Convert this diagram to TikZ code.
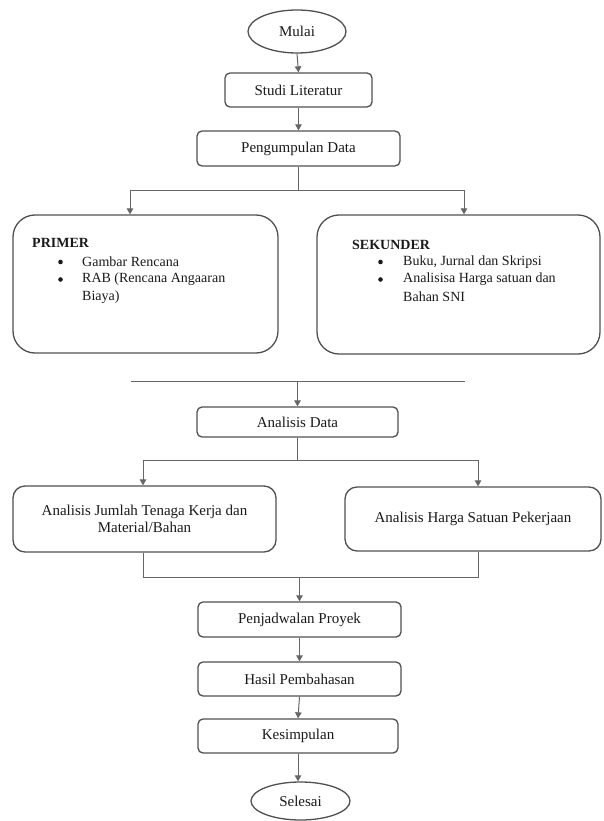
\documentclass[tikz,border=0pt]{standalone}
\usepackage{fontspec}
\setmainfont{Liberation Serif}
\usetikzlibrary{arrows.meta,shapes.geometric}
\definecolor{boxline}{HTML}{505050}
\definecolor{conn}{HTML}{666666}
\definecolor{txt}{HTML}{1A1A1A}
\tikzset{
  procbox/.style={draw=boxline, line width=1.3pt, rounded corners=5pt, inner sep=0pt,
    font=\fontsize{15}{17}\selectfont, text=txt, align=center},
  bigbox/.style={draw=boxline, line width=1.3pt, rounded corners=22pt, inner sep=0pt},
  termnode/.style={draw=boxline, line width=1.3pt, ellipse, inner sep=0pt,
    font=\fontsize{15}{17}\selectfont, text=txt},
  conline/.style={draw=conn, line width=1pt},
  conarrow/.style={conline, -{Triangle[length=6pt,width=6.5pt]}, shorten >=0pt},
  listtxt/.style={font=\fontsize{14}{16}\selectfont, text=txt, inner sep=0pt, anchor=west},
  bulletmark/.style={circle, fill=txt, draw=none, minimum size=4.6pt, inner sep=0pt},
}
\begin{document}
\begin{tikzpicture}[x=1pt,y=-1pt]
\useasboundingbox[fill=white] (0,0) rectangle (603,821);

\node[termnode, minimum width=98pt, minimum height=43pt] (mulai) at (297,31.5) {Mulai};
\node[procbox, minimum width=147pt, minimum height=34pt] (studi) at (298.5,90) {Studi Literatur};
\node[procbox, minimum width=203pt, minimum height=35pt] (kumpul) at (298.5,148.5) {Pengumpulan Data};

\node[bigbox, minimum width=265pt, minimum height=138pt] (primer) at (145.5,284) {};
\node[bigbox, minimum width=283pt, minimum height=139pt] (sekunder) at (458.5,284.5) {};

\node[listtxt, font=\fontsize{14}{16}\selectfont\bfseries] (ptitle) at (32,243) {PRIMER};
\node[bulletmark] (pb1) at (60.5,262) {};
\node[listtxt] (pi1) at (82,262) {Gambar Rencana};
\node[bulletmark] (pb2) at (60.5,279.5) {};
\node[listtxt] (pi2) at (82,279.5) {RAB (Rencana Angaaran};
\node[listtxt] (pi2b) at (82,297) {Biaya)};

\node[listtxt, font=\fontsize{14}{16}\selectfont\bfseries] (stitle) at (352,245) {SEKUNDER};
\node[bulletmark] (sb1) at (380.5,262) {};
\node[listtxt] (si1) at (403,262) {Buku, Jurnal dan Skripsi};
\node[bulletmark] (sb2) at (380.5,279.5) {};
\node[listtxt] (si2) at (403,279.5) {Analisisa Harga satuan dan};
\node[listtxt] (si2b) at (403,297) {Bahan SNI};

\node[procbox, minimum width=201pt, minimum height=30pt] (adata) at (297.5,422) {Analisis Data};
\node[procbox, rounded corners=12pt, minimum width=263pt, minimum height=66pt] (ajumlah) at (144.5,519)
  {Analisis Jumlah Tenaga Kerja dan\\Material/Bahan};
\node[procbox, rounded corners=12pt, minimum width=256pt, minimum height=64pt] (aharga) at (473,519)
  {Analisis Harga Satuan Pekerjaan};

\node[procbox, minimum width=203pt, minimum height=35pt] (jadwal) at (299.5,619.5) {Penjadwalan Proyek};
\node[procbox, minimum width=203pt, minimum height=34pt] (hasil) at (299.5,679) {Hasil Pembahasan};
\node[procbox, minimum width=200pt, minimum height=34pt] (simpul) at (298,736) {Kesimpulan};
\node[termnode, minimum width=99pt, minimum height=38pt] (selesai) at (300.5,801) {Selesai};

% connectors
\draw[conarrow] (mulai.south) -- (studi.north);
\draw[conarrow] (studi.south) -- (kumpul.north);

\coordinate (j1) at (298.5,190);
\coordinate (jl) at (130,190);
\coordinate (jr) at (464,190);
\draw[conline] (kumpul.south) -- (j1);
\draw[conline] (jl) -- (jr);
\draw[conarrow] (jl) -- (jl |- primer.north);
\draw[conarrow] (jr) -- (jr |- sekunder.north);

\coordinate (sepl) at (131,381);
\coordinate (sepr) at (465,381);
\draw[conline] (sepl) -- (sepr);
\draw[conarrow] (adata.north |- sepl) -- (adata.north);

\coordinate (j2) at (297.5,460);
\coordinate (j2l) at (143,460);
\coordinate (j2r) at (478,460);
\draw[conline] (adata.south) -- (j2);
\draw[conline] (j2l) -- (j2r);
\draw[conarrow] (j2l) -- (j2l |- ajumlah.north);
\draw[conarrow] (j2r) -- (j2r |- aharga.north);

\coordinate (j3l) at (143,577);
\coordinate (j3r) at (478,577);
\draw[conline] (j3l |- ajumlah.south) -- (j3l) -- (j3r) -- (j3r |- aharga.south);
\draw[conarrow] (jadwal.north |- j3l) -- (jadwal.north);

\draw[conarrow] (jadwal.south) -- (hasil.north);
\draw[conarrow] (hasil.south) -- (simpul.north);
\draw[conarrow] (simpul.south) -- (simpul.south |- selesai.north);
\end{tikzpicture}
\end{document}
